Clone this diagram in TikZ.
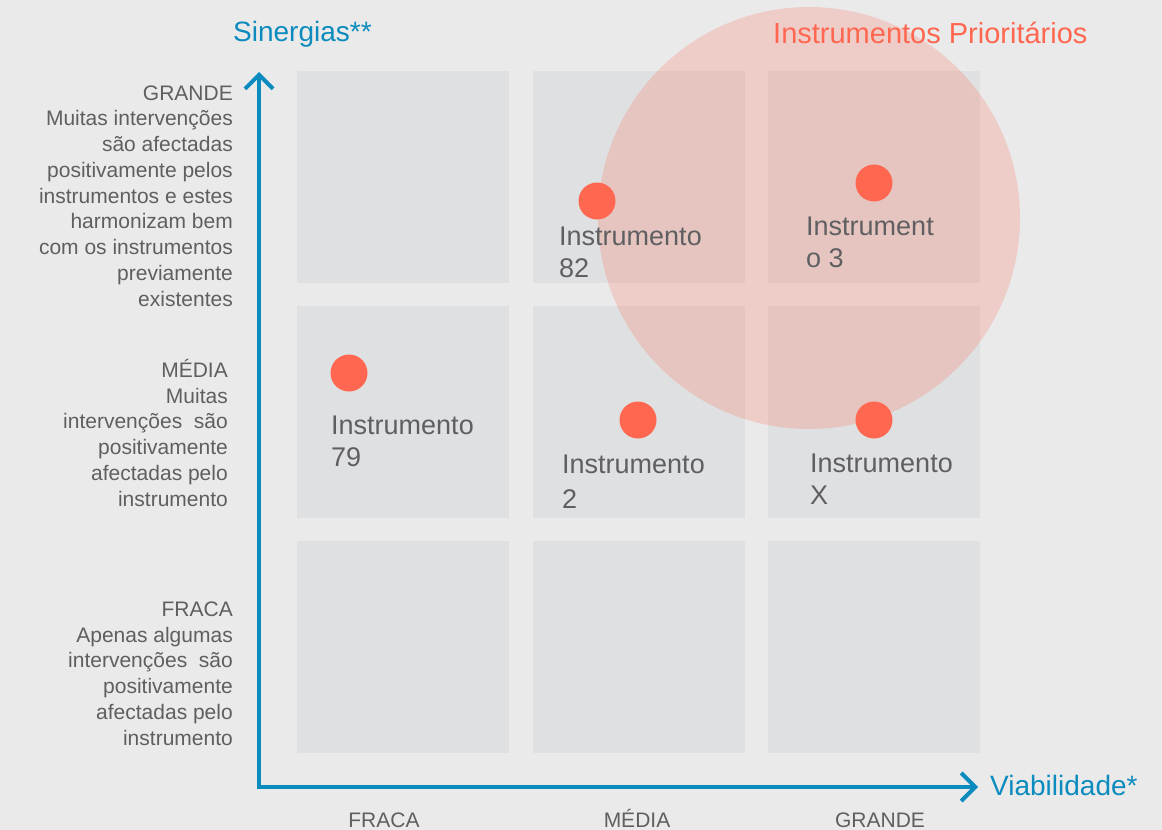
\documentclass[tikz,border=0pt]{standalone}
\usepackage{fontspec}
\setmainfont{Liberation Sans}
\usetikzlibrary{arrows.meta}
\definecolor{bgc}{RGB}{234,234,234}
\definecolor{cellc}{RGB}{223,224,226}
\definecolor{dotc}{RGB}{255,103,80}
\definecolor{bluec}{RGB}{12,140,190}
\definecolor{txtc}{RGB}{95,95,97}
\tikzset{
  cell/.style={fill=cellc, draw=none},
  prio/.style={fill=dotc, fill opacity=0.22, draw=none},
  dot/.style={circle, fill=dotc, draw=none, minimum size=37pt, inner sep=0pt},
  inst/.style={text=txtc, align=left, inner sep=0pt, font=\fontsize{27}{32}\selectfont},
  side/.style={text=txtc, align=right, inner sep=0pt, font=\fontsize{21}{25.75}\selectfont},
  bottomlab/.style={text=txtc, inner sep=0pt, font=\fontsize{21}{25}\selectfont},
  axistitle/.style={text=bluec, inner sep=0pt},
  axisline/.style={draw=bluec, line width=4.5pt, line join=miter,
    {Straight Barb[length=14pt,width=28pt,line width=4pt]}-{Straight Barb[length=14pt,width=28pt,line width=4pt]}}
}
\begin{document}
\begin{tikzpicture}[x=1pt,y=-1pt]
\useasboundingbox (0,0) rectangle (1162,830);
\fill[bgc] (0,0) rectangle (1162,830);
% grid cells
\foreach \cx in {297,533,768}{
  \foreach \cy in {71,306,541}{
    \fill[cell] (\cx,\cy) rectangle ++(212,212);
  }
}
% priority circle
\fill[prio] (809,218) circle[radius=211];
% dots
\node[dot] (d82) at (597,201) {};
\node[dot] (d3) at (874,183) {};
\node[dot] (d79) at (349,373) {};
\node[dot] (d2) at (638,420) {};
\node[dot] (dX) at (874,420) {};
% instrument labels (base anchor = baseline of last line)
\node[inst, anchor=base west] (l82) at (559,277) {Instrumento\\82};
\node[inst, anchor=base west] (l3) at (806,267) {Instrument\\o 3};
\node[inst, anchor=base west] (l79) at (331,466) {Instrumento\\79};
\node[inst, anchor=base west] (l2) at (562,508) {Instrumento\\[3pt]2};
\node[inst, anchor=base west] (lX) at (810,504) {Instrumento\\X};
% axes
\coordinate (ytop) at (259,72);
\coordinate (origin) at (259,787);
\coordinate (xend) at (978,787);
\draw[axisline] (ytop) -- (origin) -- (xend);
% titles
\node[axistitle, anchor=base west, font=\fontsize{28}{32}\selectfont] (tsyn) at (233,41) {Sinergias**};
\node[axistitle, anchor=base west, font=\fontsize{28}{32}\selectfont] (tvia) at (990,795) {Viabilidade*};
\node[anchor=base west, text=dotc, inner sep=0pt, font=\fontsize{29}{32}\selectfont] (tprio) at (773,43) {Instrumentos Prioritários};
% side labels
\node[side, anchor=base east] (sg) at (233,306) {GRANDE\\Muitas intervenções\\são afectadas\\positivamente pelos\\instrumentos e estes\\harmonizam bem\\com os instrumentos\\previamente\\existentes};
\node[side, anchor=base east] (sm) at (228,506) {MÉDIA\\Muitas\\intervenções~ são\\positivamente\\afectadas pelo\\instrumento};
\node[side, anchor=base east] (sf) at (233,745) {FRACA\\Apenas algumas\\intervenções~ são\\positivamente\\afectadas pelo\\instrumento};
% bottom labels
\node[bottomlab, anchor=base] (bf) at (384,827) {FRACA};
\node[bottomlab, anchor=base] (bm) at (637,827) {MÉDIA};
\node[bottomlab, anchor=base] (bg) at (880,827) {GRANDE};
\end{tikzpicture}
\end{document}
